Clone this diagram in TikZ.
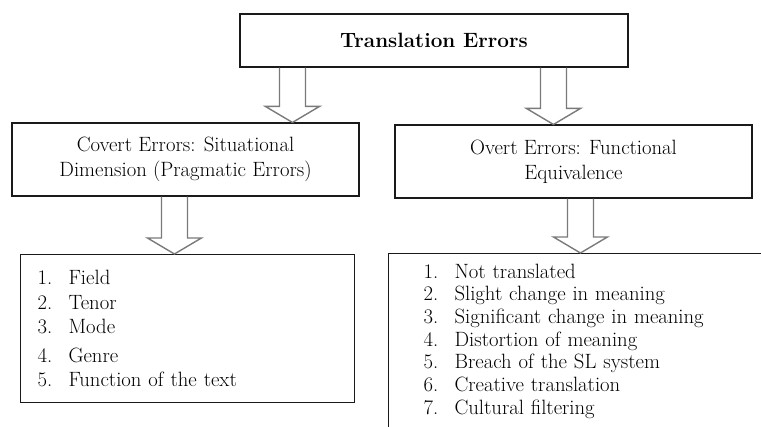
\documentclass[tikz,border=0pt]{standalone}
\usetikzlibrary{calc}
\definecolor{errLine}{HTML}{1A1A1A}
\definecolor{errArrowGray}{HTML}{7A7A7A}
\tikzset{
  errBox/.style={draw=errLine, line width=1.1pt, inner sep=0pt, align=center},
  errList/.style={draw=errLine, line width=1.1pt, anchor=north west, align=left, inner ysep=0pt},
  errArrow/.style={draw=errArrowGray, line width=1.4pt, line join=miter},
}
\newcommand{\errItem}[2]{\makebox[31pt][l]{#1.}#2}
% hollow block arrow: start anchor, x offset, target anchor
\newcommand{\errBlockArrow}[3]{%
  \coordinate (arrTop) at ($(#1)+(#2,0)$);
  \coordinate (arrTip) at (arrTop |- #3);
  \draw[errArrow] ($(arrTop)+(-13,0)$) -- ($(arrTip)+(-13,-16)$) -- ($(arrTip)+(-27,-16)$)
    -- (arrTip) -- ($(arrTip)+(27,-16)$) -- ($(arrTip)+(13,-16)$) -- ($(arrTop)+(13,0)$);
}
\begin{document}
\begin{tikzpicture}[x=1pt,y=-1pt,font=\fontsize{20.7}{24.8}\selectfont]
\useasboundingbox (0,0) rectangle (761,427);
\clip (0,0) rectangle (761,427);
\node[errBox, minimum width=388pt, minimum height=53pt, font=\fontsize{20.7}{24.8}\selectfont\bfseries] (errors) at (434,40.5) {Translation Errors};
\node[errBox, minimum width=347pt, minimum height=73pt] (covert) at (185.5,159.5) {Covert Errors: Situational\\ Dimension (Pragmatic Errors)};
\node[errBox, minimum width=357pt, minimum height=73pt] (overt) at (573.5,161.5) {Overt Errors: Functional\\ Equivalence};
\node[errList, text width=300pt, inner xsep=17pt, minimum height=148pt, font=\fontsize{20.7}{24.5}\selectfont] (covertList) at (20,254)
  {\errItem{1}{Field}\\ \errItem{2}{Tenor}\\ \errItem{3}{Mode}\\[4pt] \errItem{4}{Genre}\\ \errItem{5}{Function of the text}};
\node[errList, text width=400pt, inner xsep=35pt, minimum height=175pt, font=\fontsize{20.7}{22.7}\selectfont] (overtList) at (388,253)
  {\errItem{1}{Not translated}\\ \errItem{2}{Slight change in meaning}\\ \errItem{3}{Significant change in meaning}\\
   \errItem{4}{Distortion of meaning}\\ \errItem{5}{Breach of the SL system}\\ \errItem{6}{Creative translation}\\
   \errItem{7}{Cultural filtering}};
\errBlockArrow{errors.south west}{53}{covert.north}
\errBlockArrow{errors.south west}{314}{overt.north}
\errBlockArrow{covert.south west}{163}{covertList.north}
\errBlockArrow{overt.south west}{186}{overtList.north}
\end{tikzpicture}
\end{document}
